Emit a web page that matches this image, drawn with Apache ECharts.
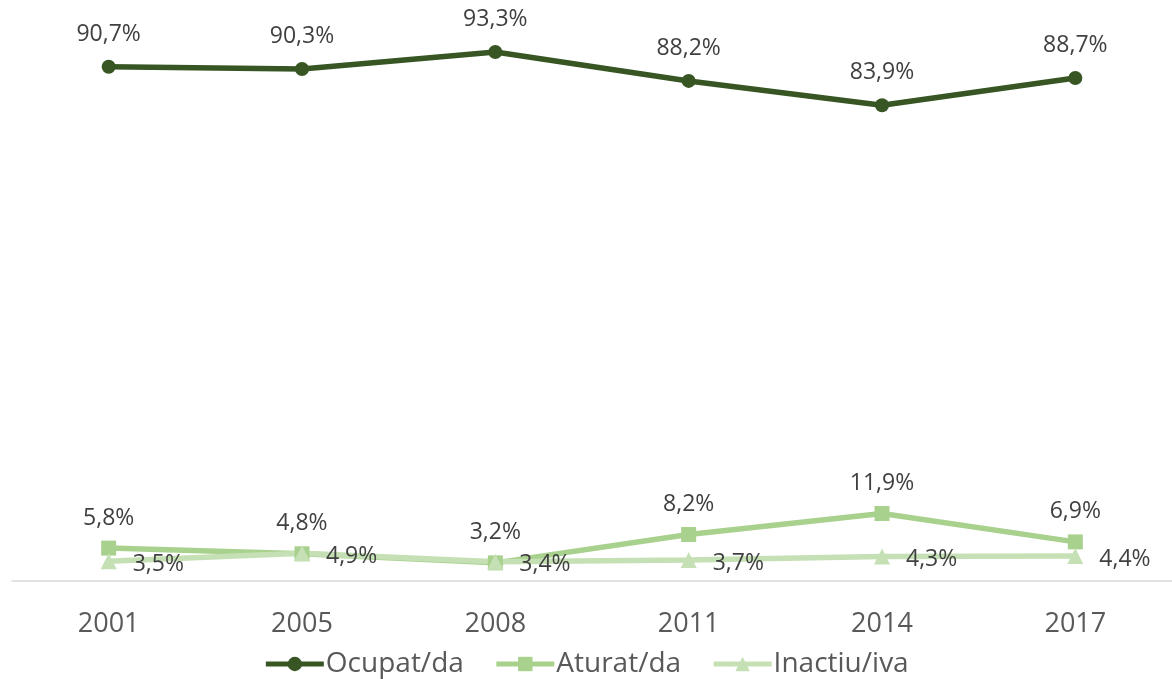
<!DOCTYPE html>
<html>
<head>
<meta charset="utf-8">
<script src="https://cdn.jsdelivr.net/npm/echarts@6/dist/echarts.min.js"></script>
<style>
  html, body { margin: 0; padding: 0; background: #fff; }
  #main { width: 1172px; height: 679px; }
</style>
</head>
<body>
<div id="main"></div>
<script>
// dades
const years = ['2001', '2005', '2008', '2011', '2014', '2017'];
const ocupat = [90.7, 90.3, 93.3, 88.2, 83.9, 88.7];
const aturat = [5.8, 4.8, 3.2, 8.2, 11.9, 6.9];
const inactiu = [3.5, 4.9, 3.4, 3.7, 4.3, 4.4];

const fontFam = '"Open Sans", "Noto Sans", sans-serif';
const fmt = function (p) { return p.value.toFixed(1).replace('.', ',') + '%'; };

const myChart = echarts.init(document.getElementById('main'));

const option = {
  animation: false,
  grid: { left: 12, right: 0, top: 14, bottom: 98 },
  legend: {
    bottom: -4,
    left: 'center',
    itemWidth: 58,
    itemHeight: 18,
    itemGap: 30,
    lineStyle: { width: 5 },
    textStyle: { fontSize: 28, color: '#595959', fontFamily: fontFam, padding: [0, 0, 0, -3] },
    data: ['Ocupat/da', 'Aturat/da', 'Inactiu/iva']
  },
  xAxis: {
    type: 'category',
    data: years,
    axisLine: { lineStyle: { color: '#d9d9d9', width: 1.5 } },
    axisTick: { show: false },
    axisLabel: { fontSize: 27, color: '#595959', margin: 30, fontFamily: fontFam }
  },
  yAxis: {
    type: 'value',
    min: 0,
    max: 100,
    show: false,
    splitLine: { show: false }
  },
  series: [
    {
      name: 'Ocupat/da',
      type: 'line',
      data: ocupat,
      symbol: 'circle',
      symbolSize: 14,
      itemStyle: { color: '#375623' },
      lineStyle: { width: 5.5, color: '#375623' },
      label: {
        show: true, position: 'top', distance: 14, formatter: fmt,
        fontSize: 23, color: '#404040', fontFamily: fontFam
      }
    },
    {
      name: 'Aturat/da',
      type: 'line',
      data: aturat,
      symbol: 'rect',
      symbolSize: 15,
      itemStyle: { color: '#a9d18e' },
      lineStyle: { width: 5.5, color: '#a9d18e' },
      label: {
        show: true, position: 'top', distance: 11, formatter: fmt,
        fontSize: 23, color: '#404040', fontFamily: fontFam
      }
    },
    {
      name: 'Inactiu/iva',
      type: 'line',
      data: inactiu,
      symbol: 'triangle',
      symbolSize: 16,
      itemStyle: { color: '#c5e0b4' },
      lineStyle: { width: 5.5, color: '#c5e0b4' },
      label: {
        show: true, position: 'right', distance: 16, offset: [0, 3], formatter: fmt,
        fontSize: 23, color: '#404040', fontFamily: fontFam
      }
    }
  ]
};

myChart.setOption(option);
window.onresize = function () { myChart.resize(); };
</script>
</body>
</html>
